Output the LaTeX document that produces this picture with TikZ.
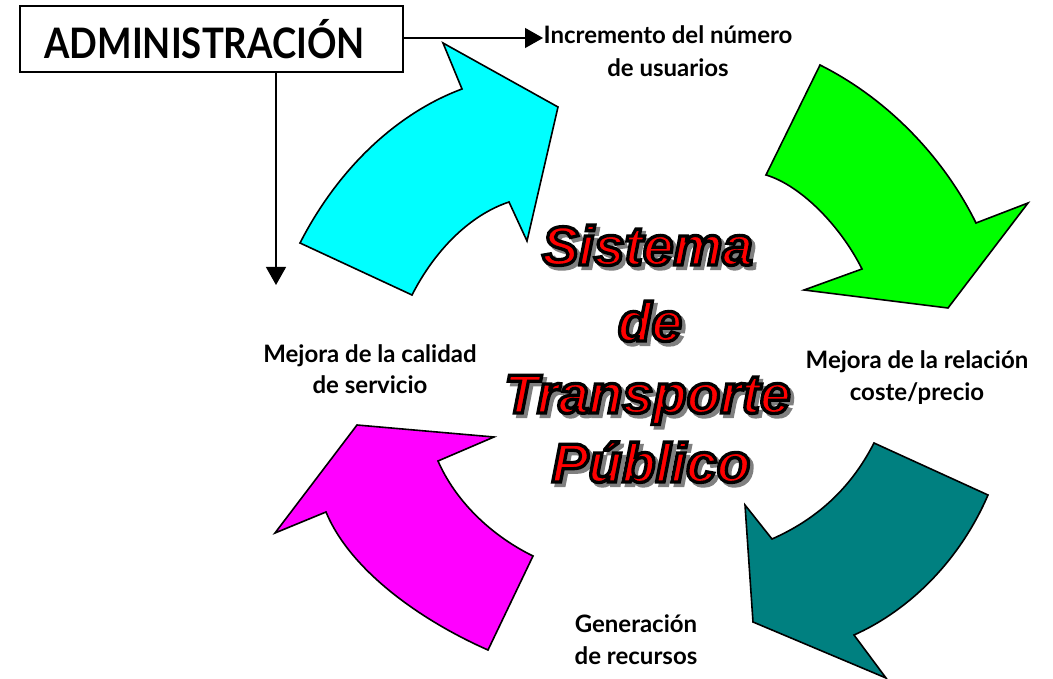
\documentclass[tikz,border=0pt]{standalone}
\usepackage{fontspec}
\setmainfont{Lato}
\newfontface\titleface[FakeBold=6]{Liberation Sans Bold Italic}
\usetikzlibrary{arrows.meta}
\definecolor{cyanc}{RGB}{0,255,255}
\definecolor{greenc}{RGB}{0,255,0}
\definecolor{tealc}{RGB}{0,128,128}
\definecolor{magc}{RGB}{255,0,255}
\definecolor{redc}{RGB}{255,0,0}
\definecolor{shadowc}{RGB}{128,128,128}
\newcommand\fancyline[4]{%
  \node[ttl, text=shadowc, xshift=3.5pt, yshift=-3.5pt] (#1s) at (#2,#3) {#4};
  \node[ttl, text=redc] (#1) at (#2,#3) {\special{pdf:code 0 0 0 RG}#4};
}
\begin{document}
\begin{tikzpicture}[x=1pt,y=-1pt,
  arrowshape/.style={draw=black, line width=1.6pt, line join=miter},
  lbl/.style={font=\fontsize{24}{28}\selectfont\bfseries, anchor=base, inner sep=0pt},
  ttl/.style={font=\titleface\fontsize{55}{60}\selectfont, anchor=base, inner sep=0pt},
  conn/.style={line width=1.3pt, -{Triangle[length=18pt,width=20pt]}},
  adminbox/.style={draw=black, line width=1.3pt, minimum width=383pt, minimum height=66pt, inner sep=0pt,
    font=\fontsize{42}{46}\selectfont\bfseries}
]
\useasboundingbox (0,0) rectangle (1053,679);

% curved arrows
\draw[arrowshape, fill=cyanc] (412,295) .. controls (435,250) and (470,215) .. (509,202) -- (527,241) -- (558,107) -- (443,43) -- (462,89) .. controls (400,112) and (340,165) .. (300,243) -- cycle;
\draw[arrowshape, fill=greenc] (766,175) .. controls (800,185) and (840,225) .. (862,269) -- (804,290) -- (948,308) -- (1028,203) -- (976,223) .. controls (945,160) and (890,100) .. (820,65) -- cycle;
\draw[arrowshape, fill=tealc] (988,495) .. controls (960,560) and (910,610) .. (854,635) -- (886,678) -- (753,622) -- (745,505) -- (772,539) .. controls (815,520) and (850,490) .. (874,443) -- cycle;
\draw[arrowshape, fill=magc] (488,650) .. controls (420,620) and (350,570) .. (326,512) -- (275,533) -- (357,425) -- (494,437) -- (438,461) .. controls (455,500) and (490,535) .. (533,556) -- cycle;

% admin box and connectors
\node[adminbox] (admin) at (211.5,39) {\hspace*{-14pt}\scalebox{0.87}[1]{ADMINISTRACIÓN}};
\coordinate (incEnd) at (543,38);
\coordinate (downEnd) at (276,285);
\draw[conn] (admin.east |- incEnd) -- (incEnd);
\draw[conn] (admin.south -| downEnd) -- (downEnd);

% labels
\node[lbl] (inc1) at (668,44) {Incremento del número};
\node[lbl] (inc2) at (668,77) {de usuarios};
\node[lbl] (rel1) at (917,368) {Mejora de la relación};
\node[lbl] (rel2) at (917,400) {coste/precio};
\node[lbl] (gen1) at (636,632) {Generación};
\node[lbl] (gen2) at (636,664) {de recursos};
\node[lbl] (cal1) at (370,362) {Mejora de la calidad};
\node[lbl] (cal2) at (370,393) {de servicio};

% title
\fancyline{t1}{647.5}{265}{Sistema}
\fancyline{t2}{650}{341}{de}
\fancyline{t3}{647.5}{413}{Transporte}
\fancyline{t4}{651}{482}{Público}
\end{tikzpicture}
\end{document}
